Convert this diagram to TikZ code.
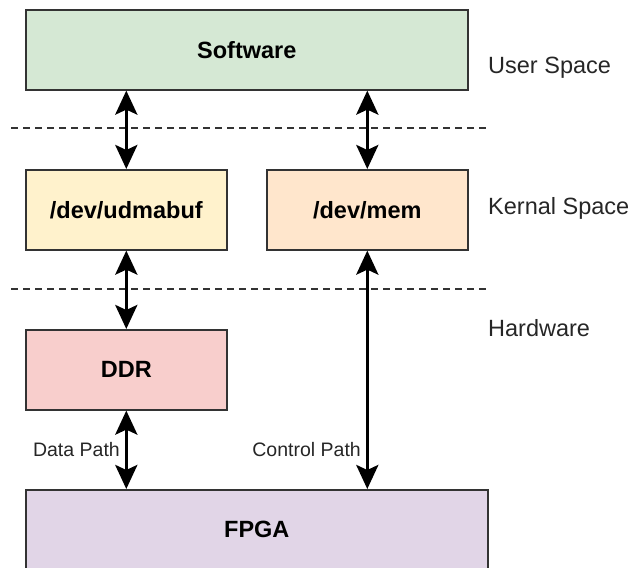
\documentclass[tikz,border=0pt]{standalone}
\usepackage{fontspec}
\setmainfont{Liberation Sans}
\usetikzlibrary{arrows.meta}
\definecolor{swfill}{HTML}{D5E8D4}
\definecolor{udfill}{HTML}{FFF2CC}
\definecolor{memfill}{HTML}{FFE6CC}
\definecolor{ddrfill}{HTML}{F8CECC}
\definecolor{fpgafill}{HTML}{E1D5E7}
\definecolor{edge}{HTML}{333333}
\tikzset{
  block/.style={draw=edge, line width=1.6pt, inner sep=0pt, anchor=north west,
    font=\fontsize{23.5}{26}\selectfont\bfseries},
  link/.style={line width=3.4pt, {Stealth[length=24pt,width=22pt,inset=5pt]}-{Stealth[length=24pt,width=22pt,inset=5pt]}},
  layer/.style={draw=edge, line width=1.4pt, dash pattern=on 7pt off 5pt},
  zone/.style={anchor=west, inner sep=0pt, font=\fontsize{23.5}{26}\selectfont, text=black!85},
  pathlabel/.style={anchor=east, inner sep=0pt, font=\fontsize{19.5}{22}\selectfont, text=black!85}
}
\begin{document}
\begin{tikzpicture}[x=1pt, y=-1pt]
  \useasboundingbox (0,0) rectangle (631,567);
  \clip (0,0) rectangle (631,567);

  % layer separators
  \coordinate (s1a) at (11,128);
  \coordinate (s1b) at (487,128);
  \coordinate (s2a) at (11,289);
  \coordinate (s2b) at (487,289);
  \draw[layer] (s1a) -- (s1b);
  \draw[layer] (s2a) -- (s2b);

  % blocks
  \node[block, fill=swfill, minimum width=442pt, minimum height=80pt] (sw) at (25,9) {Software};
  \node[block, fill=udfill, minimum width=201pt, minimum height=80pt] (ud) at (25,169) {/dev/udmabuf};
  \node[block, fill=memfill, minimum width=201pt, minimum height=80pt] (mem) at (266,169) {/dev/mem};
  \node[block, fill=ddrfill, minimum width=201pt, minimum height=80pt] (ddr) at (25,329) {DDR};
  \node[block, fill=fpgafill, minimum width=462pt, minimum height=80pt] (fpga) at (25,489) {FPGA};

  % connectors
  \draw[link] (sw.south -| ud.north) -- (ud.north);
  \draw[link] (sw.south -| mem.north) -- (mem.north);
  \draw[link] (ud.south) -- (ddr.north);
  \draw[link] (ddr.south) -- (fpga.north -| ddr.south);
  \draw[link] (mem.south) -- (fpga.north -| mem.south);

  % layer names
  \node[zone] (us) at (488,68) {User Space};
  \node[zone] (ks) at (488,208) {Kernal Space};
  \node[zone] (hw) at (488,328) {Hardware};

  % path labels
  \node[pathlabel] (dp) at (120,450) {Data Path};
  \node[pathlabel] (cp) at (361,450) {Control Path};
\end{tikzpicture}
\end{document}
